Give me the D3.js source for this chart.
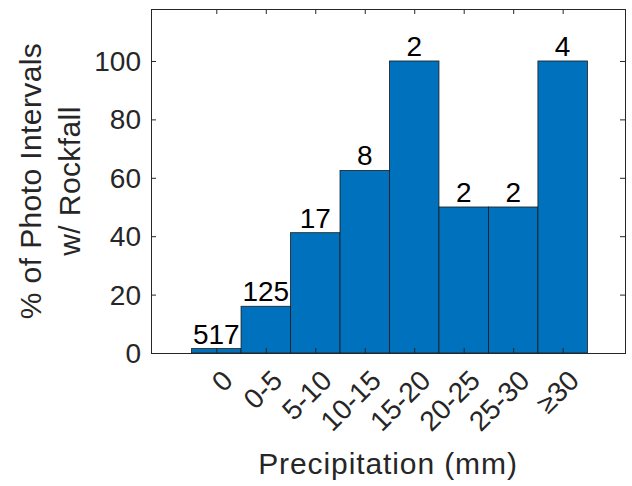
<!DOCTYPE html>
<html>
<head>
<meta charset="utf-8">
<script src="https://cdn.jsdelivr.net/npm/d3@7"></script>
<style>
  body { margin: 0; background: #fff; }
  text { font-family: Arial, "Liberation Sans", sans-serif; }
</style>
</head>
<body>
<div id="chart"></div>
<script>
// Chart data
const categories = ["0", "0-5", "5-10", "10-15", "15-20", "20-25", "25-30", "\u226530"]
const percents = [1.5, 16, 41.2, 62.5, 100, 50, 50, 100]
const counts = [517, 125, 17, 8, 2, 2, 2, 4]
const yTicks = [0, 20, 40, 60, 80, 100]

const width = 632
const height = 486
const margin = {top: 9, bottom: 133, left: 151, right: 7}
const axisColor = "#262626"

const svg = d3.select("#chart")
    .append("svg")
    .attr("width", width)
    .attr("height", height)

// Scales
const x = d3.scaleLinear()
    .domain([-0.32, 9.26])
    .range([margin.left, width - margin.right])

const y = d3.scaleLinear()
    .domain([0, 117.8])
    .range([height - margin.bottom, margin.top])

const data = categories.map((c, i) => ({cat: c, idx: i + 1, pct: percents[i], n: counts[i]}))

// Bars
svg.append("g")
    .selectAll("rect")
    .data(data)
    .enter()
    .append("rect")
    .attr("x", d => x(d.idx - 0.5))
    .attr("width", d => x(d.idx + 0.5) - x(d.idx - 0.5))
    .attr("y", d => y(d.pct))
    .attr("height", d => y(0) - y(d.pct))
    .attr("fill", "#0072BD")
    .attr("stroke", "#1a1a1a")
    .attr("stroke-width", 0.8)

// Count labels
svg.append("g")
    .selectAll("text")
    .data(data)
    .enter()
    .append("text")
    .attr("x", d => x(d.idx))
    .attr("y", d => y(d.pct) - 5)
    .attr("text-anchor", "middle")
    .attr("font-size", 28)
    .attr("fill", "#000")
    .text(d => d.n)

// Axes box with mirrored inner ticks
const tickLen = 5
const xTickVals = data.map(d => d.idx)

const bottomAxis = d3.axisBottom(x).tickValues(xTickVals).tickSize(-tickLen).tickFormat("")
const topAxis = d3.axisTop(x).tickValues(xTickVals).tickSize(-tickLen).tickFormat("")
const leftAxis = d3.axisLeft(y).tickValues(yTicks).tickSize(-tickLen).tickFormat("")
const rightAxis = d3.axisRight(y).tickValues(yTicks).tickSize(-tickLen).tickFormat("")

function styleAxis(g) {
    g.selectAll("path").attr("stroke", axisColor).attr("stroke-width", 1)
    g.selectAll("line").attr("stroke", axisColor).attr("stroke-width", 1)
}

svg.append("g").attr("transform", `translate(0,${y(0)})`).call(bottomAxis).call(styleAxis)
svg.append("g").attr("transform", `translate(0,${margin.top})`).call(topAxis).call(styleAxis)
svg.append("g").attr("transform", `translate(${margin.left},0)`).call(leftAxis).call(styleAxis)
svg.append("g").attr("transform", `translate(${width - margin.right},0)`).call(rightAxis).call(styleAxis)
svg.selectAll(".domain").attr("shape-rendering", "crispEdges")

// Y tick labels
svg.append("g")
    .selectAll("text")
    .data(yTicks)
    .enter()
    .append("text")
    .attr("x", margin.left - 10)
    .attr("y", d => y(d))
    .attr("dy", "0.36em")
    .attr("text-anchor", "end")
    .attr("font-size", 28)
    .attr("fill", axisColor)
    .text(d => d)

// X tick labels, rotated 45 degrees
svg.append("g")
    .selectAll("text")
    .data(data)
    .enter()
    .append("text")
    .attr("transform", d => `translate(${x(d.idx) + 11},${y(0) + 22}) rotate(-45)`)
    .attr("dy", "0.36em")
    .attr("text-anchor", "end")
    .attr("font-size", 28)
    .attr("fill", axisColor)
    .text(d => d.cat)

// Axis titles
svg.append("text")
    .attr("x", (margin.left + width - margin.right) / 2)
    .attr("y", 474)
    .attr("text-anchor", "middle")
    .attr("font-size", 30)
    .attr("letter-spacing", 0.9)
    .attr("fill", axisColor)
    .text("Precipitation (mm)")

const yTitle = svg.append("text")
    .attr("transform", `translate(41,${(margin.top + y(0)) / 2}) rotate(-90)`)
    .attr("text-anchor", "middle")
    .attr("font-size", 30)
    .attr("letter-spacing", 0.4)
    .attr("fill", axisColor)

yTitle.append("tspan").attr("x", 0).attr("dy", 0).text("% of Photo Intervals")
yTitle.append("tspan").attr("x", 0).attr("dy", 39).text("w/ Rockfall")
</script>
</body>
</html>
